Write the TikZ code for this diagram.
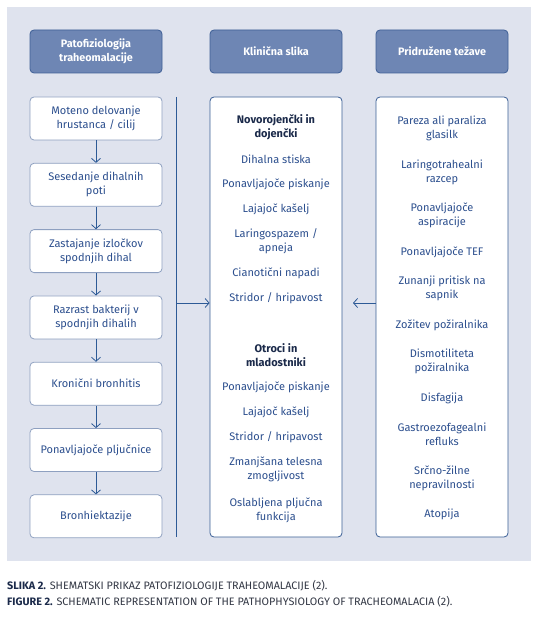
\documentclass[tikz,border=0pt]{standalone}
\usepackage{fontspec}
\setmainfont{Fira Sans}
\usetikzlibrary{arrows.meta}
\definecolor{panel}{HTML}{DFE3EE}
\definecolor{hdrfill}{HTML}{6E86B4}
\definecolor{hdrdraw}{HTML}{3E5F96}
\definecolor{txtblue}{HTML}{2C4F8E}
\definecolor{navy}{HTML}{1B2A4A}
\definecolor{lbord}{HTML}{8EA0C0}
\definecolor{dbord}{HTML}{3A5E95}
\definecolor{arr}{HTML}{2D5A96}
\definecolor{capt}{HTML}{333845}
\begin{document}
\begin{tikzpicture}[x=1pt,y=-1pt,
  hdr/.style={draw=hdrdraw,fill=hdrfill,line width=0.8pt,rounded corners=4pt,
    text=white,font=\bfseries\fontsize{10.8}{14}\selectfont,align=center,
    minimum width=132pt,minimum height=43pt,inner sep=0pt},
  lbox/.style={draw=lbord,fill=white,line width=0.8pt,rounded corners=4pt,
    text=txtblue,font=\fontsize{11}{14}\selectfont,align=center,
    minimum width=132pt,minimum height=43pt,inner sep=0pt},
  bigbox/.style={draw=dbord,fill=white,line width=0.8pt,rounded corners=4pt},
  itm/.style={text=txtblue,font=\fontsize{11}{14}\selectfont,align=center,inner sep=0pt},
  itb/.style={text=navy,font=\bfseries\fontsize{11}{14}\selectfont,align=center,inner sep=0pt},
  flow/.style={draw=arr,line width=0.8pt,-{Straight Barb[length=4pt,width=9pt]}},
  captxt/.style={anchor=west,inner sep=0pt,font=\fontsize{10.8}{12}\selectfont,text=capt}
]
\useasboundingbox (0,0) rectangle (539,620);
\fill[white] (0,0) rectangle (539,620);
\fill[panel] (7,7) rectangle (531,561);

% headers
\node[hdr] (h1) at (96,51.5) {Patofiziologija\\traheomalacije};
\node[hdr] (h2) at (276,51.5) {Klinična slika};
\node[hdr] (h3) at (442,51.5) {Pridružene težave};

% left chain
\node[lbox] (b1) at (96,118.5) {Moteno delovanje\\hrustanca / cilij};
\node[lbox] (b2) at (96,184.8) {Sesedanje dihalnih\\poti};
\node[lbox] (b3) at (96,251.1) {Zastajanje izločkov\\spodnjih dihal};
\node[lbox] (b4) at (96,317.4) {Razrast bakterij v\\spodnjih dihalih};
\node[lbox] (b5) at (96,383.7) {Kronični bronhitis};
\node[lbox] (b6) at (96,450.0) {Ponavljajoče pljučnice};
\node[lbox] (b7) at (96,516.3) {Bronhiektazije};
\foreach \a/\b in {b1/b2,b2/b3,b3/b4,b4/b5,b5/b6,b6/b7}
  \draw[flow] (\a.south) -- (\b.north);

% vertical line and arrows
\coordinate (vt) at (176,97);
\coordinate (vb) at (176,537);
\coordinate (vm) at (176,303);
\draw[arr,line width=0.9pt] (vt) -- (vb);

% big boxes
\node[bigbox,minimum width=132pt,minimum height=440pt,inner sep=0pt] (mid) at (276,317) {};
\node[bigbox,minimum width=132pt,minimum height=440pt,inner sep=0pt] (rgt) at (442,317) {};
\coordinate (ma) at (mid.west |- vm);
\coordinate (ra) at (rgt.west |- vm);
\coordinate (rb) at (353,303);
\draw[flow] (vm) -- (ma);
\draw[flow] (ra) -- (rb);

% middle content
\node[itb] (m1) at (276,127) {Novorojenčki in\\dojenčki};
\node[itm] (m2) at (276,159) {Dihalna stiska};
\node[itm] (m3) at (276,184) {Ponavljajoče piskanje};
\node[itm] (m4) at (276,209) {Lajajoč kašelj};
\node[itm] (m5) at (276,241) {Laringospazem /\\apneja};
\node[itm] (m6) at (276,273) {Cianotični napadi};
\node[itm] (m7) at (276,298) {Stridor / hripavost};
\node[itb] (m8) at (276,355) {Otroci in\\mladostniki};
\node[itm] (m9) at (276,387) {Ponavljajoče piskanje};
\node[itm] (m10) at (276,412) {Lajajoč kašelj};
\node[itm] (m11) at (276,437) {Stridor / hripavost};
\node[itm] (m12) at (276,469) {Zmanjšana telesna\\zmogljivost};
\node[itm] (m13) at (276,510) {Oslabljena pljučna\\funkcija};

% right content
\node[itm] (r1) at (442,128) {Pareza ali paraliza\\glasilk};
\node[itm] (r2) at (442,172) {Laringotrahealni\\razcep};
\node[itm] (r3) at (442,215) {Ponavljajoče\\aspiracije};
\node[itm] (r4) at (442,252) {Ponavljajoče TEF};
\node[itm] (r5) at (442,288) {Zunanji pritisk na\\sapnik};
\node[itm] (r6) at (442,325) {Zožitev požiralnika};
\node[itm] (r7) at (442,361) {Dismotiliteta\\požiralnika};
\node[itm] (r8) at (442,398) {Disfagija};
\node[itm] (r9) at (442,434) {Gastroezofagealni\\refluks};
\node[itm] (r10) at (442,478) {Srčno-žilne\\nepravilnosti};
\node[itm] (r11) at (442,514) {Atopija};

% captions
\node[captxt] (c1) at (7,586) {\textbf{\color{navy}SLIKA 2.} SHEMATSKI PRIKAZ PATOFIZIOLOGIJE TRAHEOMALACIJE (2).};
\node[captxt] (c2) at (7,602) {\textbf{\color{navy}FIGURE 2.} SCHEMATIC REPRESENTATION OF THE PATHOPHYSIOLOGY OF TRACHEOMALACIA (2).};
\end{tikzpicture}
\end{document}
